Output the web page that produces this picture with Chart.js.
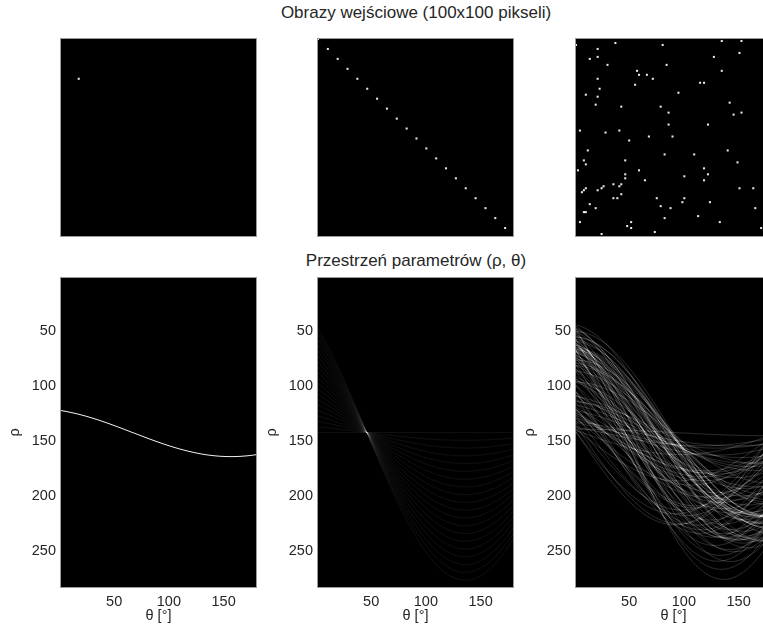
<!DOCTYPE html>
<html>
<head>
<meta charset="utf-8">
<script src="https://cdn.jsdelivr.net/npm/chart.js@4.4.1/dist/chart.umd.min.js"></script>
<style>
  html, body { margin: 0; padding: 0; background: #fff; }
  body { width: 763px; height: 628px; overflow: hidden; position: relative; }
  canvas { position: absolute; }
  .title {
    position: absolute; left: 0; width: 832px; text-align: center;
    font: 17px "Liberation Sans", Arial, sans-serif; line-height: 1; color: #262626;
  }
</style>
</head>
<body>
<div class="title" id="t1" style="top:4px">Obrazy wejściowe (100x100 pikseli)</div>
<div class="title" id="t2" style="top:252px">Przestrzeń parametrów (ρ, θ)</div>

<canvas id="img1" width="197" height="199" style="left:60px;top:38px"></canvas>
<canvas id="img2" width="197" height="199" style="left:317px;top:38px"></canvas>
<canvas id="img3" width="197" height="199" style="left:575px;top:38px"></canvas>

<canvas id="hough1" width="251" height="348" style="left:6px;top:277px"></canvas>
<canvas id="hough2" width="251" height="348" style="left:263px;top:277px"></canvas>
<canvas id="hough3" width="251" height="348" style="left:521px;top:277px"></canvas>

<script>
// input images: white pixel positions (column, row), 1-based
const ONE_X = [10];
const ONE_Y = [21];

const LINE_X = [1, 6, 11, 16, 21, 26, 31, 36, 41, 46, 51, 56, 61, 66, 71, 76, 81, 86, 91, 96];
const LINE_Y = [1, 6, 11, 16, 21, 26, 31, 36, 41, 46, 51, 56, 61, 66, 71, 76, 81, 86, 91, 96];

const RAND_X = [1, 12, 21, 45, 75, 85, 8, 12, 17, 47, 71, 84, 32, 33, 37, 40, 75, 12, 31, 64,
                66, 13, 6, 12, 53, 11, 24, 44, 48, 79, 81, 85, 48, 68, 3, 16, 23, 38, 50, 28,
                7, 46, 61, 78, 5, 6, 26, 83, 2, 33, 66, 26, 26, 68, 56, 36, 66, 20, 24, 23,
                15, 14, 6, 5, 4, 12, 84, 91, 24, 20, 22, 42, 56, 55, 69, 8, 11, 44, 49, 92,
                5, 6, 46, 63, 3, 29, 27, 29, 74, 41, 14, 95];
const RAND_Y = [4, 6, 3, 4, 2, 2, 11, 10, 14, 14, 10, 8, 17, 19, 19, 21, 17, 21, 24, 23,
                23, 26, 29, 30, 28, 34, 35, 35, 38, 33, 39, 38, 44, 44, 47, 48, 47, 50, 50, 52,
                57, 59, 59, 57, 62, 64, 62, 63, 67, 67, 66, 69, 71, 69, 70, 72, 72, 74, 74, 75,
                75, 76, 76, 77, 78, 77, 76, 76, 79, 81, 81, 81, 81, 83, 83, 84, 86, 85, 86, 86,
                88, 88, 91, 90, 93, 93, 95, 96, 93, 98, 99, 96];

// parameter space axes
const THETA = Array.from({ length: 180 }, (_, i) => i + 1);   // theta bins 1..180
const THETA_TICKS = [50, 100, 150];
const RHO_TICKS = [50, 100, 150, 200, 250];

const TICK_FONT = { family: '"Liberation Sans", Arial, sans-serif', size: 14.5 };
const TEXT_COLOR = '#262626';
const FRAME_COLOR = '#9a9a9a';

// black image background + thin frame, curves add up like an accumulator
const framePlugin = {
    id: 'frame',
    beforeDraw(chart) {
        const a = chart.chartArea, ctx = chart.ctx;
        ctx.save();
        ctx.fillStyle = '#000';
        ctx.fillRect(a.left, a.top, a.right - a.left, a.bottom - a.top);
        ctx.restore();
    },
    beforeDatasetsDraw(chart) {
        chart.ctx.save();
        chart.ctx.globalCompositeOperation = 'lighter';
    },
    afterDatasetsDraw(chart) {
        chart.ctx.restore();
    },
    afterDraw(chart) {
        const a = chart.chartArea, ctx = chart.ctx;
        ctx.save();
        ctx.strokeStyle = FRAME_COLOR;
        ctx.lineWidth = 1;
        ctx.strokeRect(a.left + 0.5, a.top + 0.5, a.right - a.left - 1, a.bottom - a.top - 1);
        ctx.restore();
    }
};

function imageChart(id, xs, ys) {
    const pts = xs.map((x, i) => ({ x: x, y: ys[i] }));
    return new Chart(document.getElementById(id), {
        type: 'scatter',
        data: {
            datasets: [{
                data: pts,
                pointStyle: 'rect',
                pointRadius: 1.45,
                pointHoverRadius: 1.45,
                pointBorderWidth: 0,
                backgroundColor: '#e8e8e8'
            }]
        },
        options: {
            responsive: false,
            animation: false,
            devicePixelRatio: 1,
            events: [],
            layout: { padding: 0, autoPadding: false },
            plugins: { legend: { display: false }, tooltip: { enabled: false } },
            scales: {
                x: { type: 'linear', display: false, min: 0.5, max: 100.5 },
                y: { type: 'linear', display: false, min: 0.5, max: 100.5, reverse: true }
            }
        },
        plugins: [framePlugin]
    });
}

// rho = x cos(t) + y sin(t), t = -90..89 deg, rho bins offset by 142
function houghCurve(px, py) {
    return THETA.map(k => {
        const t = (k - 91) * Math.PI / 180;
        return { x: k, y: (px - 1) * Math.cos(t) + (py - 1) * Math.sin(t) + 142 };
    });
}

function houghChart(id, xs, ys, color) {
    const datasets = xs.map((x, i) => ({
        data: houghCurve(x, ys[i]),
        borderColor: color,
        borderWidth: 1,
        pointRadius: 0,
        tension: 0
    }));
    return new Chart(document.getElementById(id), {
        type: 'line',
        data: { datasets: datasets },
        options: {
            responsive: false,
            animation: false,
            devicePixelRatio: 1,
            events: [],
            layout: { padding: 0, autoPadding: false },
            plugins: { legend: { display: false }, tooltip: { enabled: false } },
            scales: {
                x: {
                    type: 'linear', min: 0.5, max: 180.5,
                    grid: { display: false, drawTicks: false }, border: { display: false },
                    afterBuildTicks: s => { s.ticks = THETA_TICKS.map(v => ({ value: v })); },
                    ticks: { padding: 5, color: TEXT_COLOR, font: TICK_FONT, maxRotation: 0, autoSkip: false },
                    title: { display: true, text: 'θ [°]', padding: 0, color: TEXT_COLOR, font: TICK_FONT },
                    afterFit: s => { s.height = 37; s.paddingLeft = 0; s.paddingRight = 0; }
                },
                y: {
                    type: 'linear', min: 0.5, max: 283.5, reverse: true,
                    grid: { display: false, drawTicks: false }, border: { display: false },
                    afterBuildTicks: s => { s.ticks = RHO_TICKS.map(v => ({ value: v })); },
                    ticks: { padding: 4, color: TEXT_COLOR, font: TICK_FONT, autoSkip: false },
                    title: { display: true, text: 'ρ', padding: 0, color: TEXT_COLOR, font: TICK_FONT },
                    afterFit: s => { s.width = 54; s.paddingTop = 0; s.paddingBottom = 0; }
                }
            }
        },
        plugins: [framePlugin]
    });
}

imageChart('img1', ONE_X, ONE_Y);
imageChart('img2', LINE_X, LINE_Y);
imageChart('img3', RAND_X, RAND_Y);

houghChart('hough1', ONE_X, ONE_Y, 'rgba(255,255,255,0.95)');
houghChart('hough2', LINE_X, LINE_Y, 'rgba(255,255,255,0.055)');
houghChart('hough3', RAND_X, RAND_Y, 'rgba(255,255,255,0.16)');
</script>
</body>
</html>
